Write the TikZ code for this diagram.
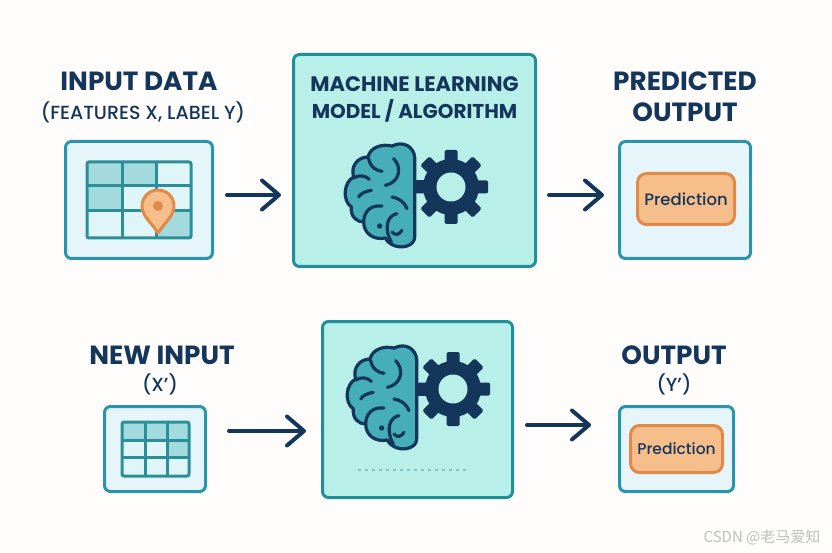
\documentclass[tikz,border=0pt]{standalone}
\usepackage{fontspec}
\setmainfont{Poppins}
\newfontfamily\mediumfont{Poppins Medium}
\newfontfamily\cjkfont{Noto Sans CJK SC}
\usetikzlibrary{arrows.meta, positioning}

\definecolor{inkblue}{HTML}{14365A}
\definecolor{panelline}{HTML}{2A93AD}
\definecolor{panelfill}{HTML}{E6F5FA}
\definecolor{modelline}{HTML}{1F8F99}
\definecolor{modelfill}{HTML}{B9EFE9}
\definecolor{gridline}{HTML}{2A8F99}
\definecolor{celldark}{HTML}{A3DADE}
\definecolor{celllight}{HTML}{E0F5F7}
\definecolor{brainfill}{HTML}{45AEB8}
\definecolor{pinline}{HTML}{E08A4A}
\definecolor{pinfill}{HTML}{F6BE8A}
\definecolor{pagefill}{HTML}{FEFDFC}

\tikzset{
  brainfold/.style={draw=inkblue, line width=3.2pt, line cap=round, line join=round},
  pics/braingear/.style={code={
    % --- engrane ---
    \fill[inkblue] (-37,-6.5) rectangle (0,6.5);
    \fill[inkblue] (0,0) circle (28);
    \foreach \ang in {0,45,90,135}
      \fill[inkblue, rotate=\ang, rounded corners=1.5pt] (-37,-6.5) rectangle (37,6.5);
    \fill[modelfill] (0,0) circle (14.5);
    % --- cerebro ---
    \begin{scope}[x=0.3333pt, y=-0.3333pt, shift={(-497,-425)}]
      \draw[brainfold, fill=brainfill] (388,335)
        .. controls (385,305) and (355,285) .. (320,302)
        .. controls (290,295) and (255,305) .. (248,335)
        .. controls (215,335) and (195,365) .. (205,395)
        .. controls (175,410) and (170,465) .. (198,485)
        .. controls (195,515) and (215,530) .. (235,530)
        .. controls (235,565) and (265,585) .. (300,578)
        .. controls (310,600) and (345,612) .. (370,600)
        .. controls (382,595) and (388,585) .. (388,575) -- cycle;
      \draw[brainfold] (250,340) .. controls (255,365) and (270,375) .. (290,378);
      \draw[brainfold] (325,340) .. controls (350,365) and (345,410) .. (300,420);
      \draw[brainfold] (205,398) .. controls (220,388) and (240,390) .. (252,402);
      \draw[brainfold] (220,455) .. controls (225,445) and (240,438) .. (258,435);
      \draw[brainfold] (320,455) .. controls (340,458) and (358,470) .. (365,490);
      \draw[brainfold] (290,482) .. controls (255,478) and (235,500) .. (235,530);
      \draw[brainfold] (335,505) .. controls (305,510) and (295,550) .. (318,590);
      \draw[brainfold] (320,560) .. controls (330,572) and (342,568) .. (350,555);
      \fill[inkblue] (283,542) circle (8);
    \end{scope}
  }}
}

\begin{document}
\begin{tikzpicture}[
    x=1pt, y=-1pt,
    >={Straight Barb[length=17pt, width=29pt, round]},
    panel/.style={draw=panelline, fill=panelfill, line width=3pt, rounded corners=6pt, inner sep=0pt},
    modelbox/.style={draw=modelline, fill=modelfill, line width=3pt, rounded corners=6pt, inner sep=0pt},
    predbox/.style={draw=pinline, fill=pinfill, line width=3pt, rounded corners=9pt, inner sep=0pt, text=inkblue},
    heading/.style={font=\bfseries\fontsize{26.3}{31}\selectfont, text=inkblue, align=center, inner sep=0pt},
    subheading/.style={font=\mediumfont\fontsize{19}{22}\selectfont, text=inkblue, inner sep=0pt},
    flow/.style={->, draw=inkblue, line width=4pt, line cap=round}
  ]
  \path[use as bounding box, fill=pagefill] (0,0) rectangle (832,553);

  % --- fila superior ---
  \node[panel, minimum width=147pt, minimum height=117pt] (inbox) at (139,200) {};
  \node[modelbox, minimum width=242pt, minimum height=212pt] (trainbox) at (414.5,160.5) {};
  \node[panel, minimum width=131pt, minimum height=117pt] (predbox) at (685,200) {};
  \node[predbox, minimum width=97pt, minimum height=51pt, font=\mediumfont\fontsize{16.5}{19}\selectfont] (predtop) at (686,199) {Prediction};

  \node[heading] (intitle) at (139,81) {INPUT DATA};
  \node[subheading, below=11pt of intitle.south, xshift=4pt] (insub) {(FEATURES X, LABEL Y)};
  \node[heading, font=\bfseries\fontsize{21}{27}\selectfont] (traintitle) at (414.5,99.5) {MACHINE LEARNING\\{\fontsize{20}{27}\selectfont MODEL / ALGORITHM}};
  \node[heading] (predtitle) at (685,96.5) {PREDICTED\\OUTPUT};

  % --- tabla de entrenamiento ---
  \fill[celllight] (87,162) rectangle (191,238);
  \foreach \xa/\ya/\xb/\yb in {87/162/122/186, 122/162/156/186, 87/186/122/211, 156/211/191/238}
    \fill[celldark] (\xa,\ya) rectangle (\xb,\yb);
  \draw[gridline, line width=3pt, rounded corners=2pt] (87,162) rectangle (191,238);
  \foreach \xa in {122,156} \draw[gridline, line width=3pt] (\xa,162) -- (\xa,238);
  \foreach \ya in {186,211} \draw[gridline, line width=3pt] (87,\ya) -- (191,\ya);
  \draw[pinline, fill=pinfill, line width=3pt, line join=round] (158,233)
    .. controls (151,222) and (142,216) .. (142,206)
    arc[start angle=180, end angle=360, radius=16]
    .. controls (174,216) and (165,222) .. (158,233) -- cycle;
  \fill[pinline] (158,206) circle (5);

  \pic at (451,187) {braingear};

  % --- fila inferior ---
  \node[panel, minimum width=101pt, minimum height=85pt] (newbox) at (155,449) {};
  \node[modelbox, minimum width=190pt, minimum height=176pt] (usebox) at (417.5,409.5) {};
  \node[panel, minimum width=114pt, minimum height=85pt] (outbox) at (676.5,449) {};
  \node[predbox, minimum width=92pt, minimum height=47pt, font=\mediumfont\fontsize{15.5}{18}\selectfont] (predlow) at (676.5,449) {Prediction};

  \node[heading] (newtitle) at (162,355) {NEW INPUT};
  \node[subheading] (newsub) at (160,384) {(X’)};
  \node[heading] (outtitle) at (674,355) {OUTPUT};
  \node[subheading] (outsub) at (674,384) {(Y’)};

  % --- tabla nueva ---
  \fill[celllight] (122,422) rectangle (189,476);
  \foreach \xa/\ya/\xb/\yb in {122/422/145/440, 145/422/167/440, 167/422/189/440, 167/440/189/457}
    \fill[celldark] (\xa,\ya) rectangle (\xb,\yb);
  \draw[gridline, line width=3pt, rounded corners=2pt] (122,422) rectangle (189,476);
  \foreach \xa in {145,167} \draw[gridline, line width=3pt] (\xa,422) -- (\xa,476);
  \foreach \ya in {440,457} \draw[gridline, line width=3pt] (122,\ya) -- (189,\ya);

  \pic at (453,389) {braingear};
  \draw[celldark!70!gridline, line width=1.5pt, dash pattern=on 3pt off 4pt] (358,470) -- (470,470);

  % --- conexiones ---
  \coordinate (toprow) at (0,195);
  \coordinate (lowrow) at (0,431);
  \coordinate (lowout) at (0,425);
  \draw[flow, shorten <=13pt, shorten >=11pt] (inbox.east |- toprow) -- (trainbox.west |- toprow);
  \draw[flow, shorten <=12pt, shorten >=14pt] (trainbox.east |- toprow) -- (predbox.west |- toprow);
  \draw[flow, shorten <=22pt, shorten >=15pt] (newbox.east |- lowrow) -- (usebox.west |- lowrow);
  \draw[flow, shorten <=13pt, shorten >=27pt] (usebox.east |- lowout) -- (outbox.west |- lowout);

  \node[text=black!25, font=\cjkfont\fontsize{15}{17}\selectfont, inner sep=0pt] (mark) at (762,537) {CSDN @老马爱知};
\end{tikzpicture}
\end{document}
